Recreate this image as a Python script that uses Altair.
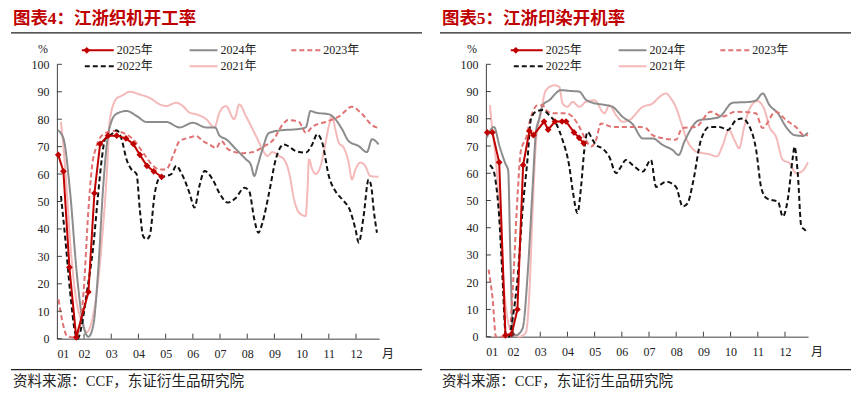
import altair as alt
import pandas as pd

# ---------------- data ----------------
MONTH_TICKS = list(range(12))
MONTH_LABELS = ["01", "02", "03", "04", "05", "06", "07", "08", "09", "10", "11", "12"]
Y_TICKS = list(range(0, 101, 10))
SERIES = ["2025年", "2024年", "2023年", "2022年", "2021年"]
TITLES = ["图表4：江浙织机开工率", "图表5：江浙印染开机率"]
SOURCE = "资料来源：CCF，东证衍生品研究院"

# Chart 1: 江浙织机开工率 (x = months since Jan 1)
L25_X = [0.05, 0.24, 0.46, 0.71, 1.16, 1.38, 1.59, 1.88, 2.2, 2.54, 2.81, 3.05, 3.31, 3.56, 3.85]
L25_Y = [67, 61, 26, 0.5, 17, 53, 71, 74, 74, 73, 71, 67, 63, 61, 59]

L24_X = [0.03, 0.24, 0.49, 0.73, 0.98, 1.16, 1.34, 1.52, 1.7, 1.85, 2.0, 2.2, 2.56, 2.93, 3.29, 4.02, 4.51,
         5.0, 5.49, 5.82, 5.98, 6.22, 6.59, 6.95, 7.13, 7.26, 7.38, 7.56, 7.8, 8.29, 8.78, 9.15, 9.33,
         9.51, 10.0, 10.24, 10.49, 10.73, 11.1, 11.4, 11.59, 11.83]
L24_Y = [76, 73, 53, 24, 4.6, 0.7, 5, 25, 55, 72, 79, 82, 83, 81.2, 79, 79, 77,
         78.7, 77, 77, 74, 72.7, 69, 65.4, 63.5, 59.3, 63, 69, 75, 76, 76.3, 77, 83,
         82.4, 81.8, 80, 76.3, 72, 70.2, 68, 72.7, 70.8]

L23_X = [0.06, 0.24, 0.37, 0.61, 0.79, 0.98, 1.16, 1.28, 1.46, 1.71, 2.07, 2.44, 2.8, 3.17, 3.54, 3.78,
         4.02, 4.27, 4.51, 4.88, 5.12, 5.37, 5.61, 5.85, 6.05, 6.3, 6.83, 7.2, 7.6, 7.96, 8.3, 8.5,
         8.9, 9.16, 9.4, 9.89, 10.38, 10.85, 11.2, 11.58, 11.84]
L23_Y = [14.3, 4.6, 1, 0.4, 2.2, 16.8, 47, 61.7, 70.2, 74.5, 75.7, 75, 72.7, 67.8, 63, 61.7,
         61.7, 66.6, 72, 73.3, 73.9, 72, 70.8, 69.5, 72, 69, 67.6, 68, 70, 72.5, 78, 79.7,
         79, 75, 77.3, 79, 81, 84.5, 82.1, 77.9, 76.7]

L22_X = [0.15, 0.3, 0.49, 0.67, 0.76, 0.91, 1.1, 1.34, 1.52, 1.65, 1.77, 2.01, 2.2, 2.38, 2.56, 2.74,
         2.93, 3.05, 3.17, 3.29, 3.41, 3.6, 3.78, 4.02, 4.21, 4.39, 4.57, 4.88, 5.06, 5.24, 5.43,
         5.73, 5.98, 6.28, 6.59, 6.89, 7.07, 7.26, 7.41, 7.56, 7.8, 8.05, 8.35, 8.54, 8.78, 9.15,
         9.39, 9.57, 9.76, 10.0, 10.24, 10.49, 10.79, 10.98, 11.1, 11.28, 11.46, 11.56, 11.65, 11.77]
L22_Y = [52, 37.4, 16.8, 2.2, 0, 4.6, 16.8, 33.8, 53, 65.4, 72.7, 74.5, 76, 72.7, 65.4, 61.7,
         60, 47, 37.4, 36.2, 37.4, 53, 58.7, 59.3, 60, 63, 60.5, 53, 47.8, 55.6, 61.1,
         58, 53, 49.6, 51.4, 55, 53.8, 43.5, 38.6, 42.3, 53, 65.4, 70.8, 70, 68.4, 67.8,
         70.8, 74.5, 71.4, 59.3, 53.8, 50.8, 46.5, 39.9, 35, 44.7, 58, 55.6, 47, 38.6]

L21_X = [0.15, 0.24, 0.37, 0.49, 0.67, 0.92, 1.1, 1.3, 1.47, 1.65, 1.83, 1.95, 2.2, 2.38, 2.68, 3.05,
         3.41, 3.78, 4.02, 4.39, 4.63, 4.88, 5.12, 5.49, 5.79, 5.98, 6.22, 6.52, 6.71, 6.95, 7.2,
         7.38, 7.56, 7.74, 7.93, 8.17, 8.35, 8.54, 8.72, 8.9, 9.15, 9.21, 9.27, 9.39, 9.51, 9.7,
         9.88, 10.0, 10.12, 10.24, 10.37, 10.55, 10.73, 10.85, 10.98, 11.16, 11.34, 11.52, 11.83]
L21_Y = [79, 70, 53, 35, 17, 6, 2.4, 7, 17, 35, 59, 80, 87.6, 88.5, 90, 89,
         87.8, 85.4, 84.8, 86, 84.8, 82.4, 81.8, 80, 77, 82.4, 84.8, 80, 85.4, 81.2, 76.3,
         72.7, 69, 66.6, 68, 66.6, 65.4, 60.5, 50.8, 46, 44.7, 53, 65.4, 61.7, 60, 63,
         71.4, 77.5, 81.2, 76.3, 71.4, 69.6, 64.2, 58, 61.7, 64.2, 63, 59.3, 59]

# Chart 2: 江浙印染开机率
R25_X = [0.05, 0.24, 0.49, 0.72, 0.95, 1.16, 1.37, 1.6, 1.75, 2.14, 2.29, 2.54, 2.8, 2.95, 3.24, 3.43, 3.6]
R25_Y = [75, 75, 64, 0.5, 1, 10, 63, 75.5, 74, 79, 76, 79, 79, 79, 75, 73, 71]

R24_X = [0.03, 0.3, 0.5, 0.72, 0.82, 0.9, 1.0, 1.1, 1.35, 1.55, 1.72, 1.84, 1.96, 2.09, 2.33, 2.76,
         3.13, 3.43, 3.68, 3.93, 4.42, 4.66, 5.03, 5.4, 5.77, 6.13, 6.5, 6.87, 7.09, 7.3, 7.85,
         8.34, 8.59, 9.08, 9.69, 9.94, 10.18, 10.43, 10.74, 11.04, 11.35, 11.66, 11.84]
R24_Y = [73, 77, 70, 63.5, 61, 30, 1, 0.5, 3, 25, 55, 75, 80, 85, 86.8, 90.5,
         90.2, 90, 87, 85.9, 85, 84.4, 80.7, 78, 72.8, 72.8, 70.4, 68.5, 66.7, 71.6, 79.5,
         80.1, 80.7, 85.9, 86.2, 86.8, 89.3, 85, 82, 77, 74, 73.7, 74.9]

R23_X = [0.1, 0.25, 0.37, 0.86, 0.98, 1.17, 1.29, 1.47, 1.66, 1.9, 2.09, 2.21, 2.45, 2.94, 3.19, 3.44,
         3.68, 3.87, 4.05, 4.23, 4.66, 5.03, 5.27, 5.64, 5.88, 6.13, 6.48, 6.99, 7.22, 7.72, 8.27,
         8.69, 9.19, 9.93, 10.17, 10.66, 11.03, 11.4, 11.7, 11.84]
R23_Y = [24.6, 13.7, 0, 0, 16, 52.7, 68.5, 72.8, 80.7, 85, 85, 83.2, 82, 82, 80.7, 77,
         72.2, 69.8, 72.2, 78.3, 77, 77, 77, 77, 76.6, 74, 72.9, 72.3, 76.6, 77, 82.6,
         80.8, 82.6, 82, 76.6, 82.6, 79.6, 77, 74, 74]

R22_X = [0.15, 0.31, 0.37, 0.49, 0.61, 0.74, 0.86, 0.98, 1.17, 1.35, 1.53, 1.66, 1.84, 2.09, 2.33, 2.58,
         2.82, 3.07, 3.19, 3.37, 3.5, 3.62, 3.74, 3.93, 4.05, 4.29, 4.54, 4.79, 4.97, 5.15, 5.4,
         5.77, 6.07, 6.26, 6.63, 6.99, 7.24, 7.42, 7.61, 7.91, 8.22, 8.59, 8.9, 9.2, 9.45, 9.63,
         9.94, 10.12, 10.31, 10.49, 10.74, 10.92, 11.1, 11.29, 11.35, 11.47, 11.6, 11.72, 11.84]
R22_Y = [63, 60, 56.3, 44, 22, 0, 0, 6.3, 22, 46.6, 65, 80, 82.6, 83.2, 81.3, 78.3,
         72.2, 62.4, 53.9, 45.4, 55, 68.5, 75.2, 72.2, 70.4, 69.1, 66, 60, 62.4, 64.9, 63,
         60.6, 64.9, 55, 56.9, 55, 47.8, 49, 56.3, 72.2, 77, 77, 75.9, 79.5, 80.1, 78.3,
         68.5, 55, 50.9, 50.2, 49.6, 44.1, 50.2, 66, 69.8, 60, 40.5, 39.3, 38]

R21_X = [0.15, 0.25, 0.37, 0.49, 0.61, 0.8, 0.98, 1.23, 1.47, 1.6, 1.72, 1.84, 2.02, 2.21, 2.52, 2.7,
         2.82, 3.0, 3.19, 3.44, 3.68, 3.99, 4.36, 4.54, 4.79, 5.03, 5.27, 5.77, 6.13, 6.38, 6.62,
         6.81, 7.0, 7.2, 7.36, 7.6, 7.72, 8.21, 8.5, 8.7, 8.94, 9.15, 9.31, 9.5, 9.68, 9.98,
         10.25, 10.43, 10.67, 10.92, 11.17, 11.41, 11.66, 11.84]
R21_Y = [85, 74.6, 64.9, 46.6, 25.9, 6.3, 1.5, 0, 1.5, 16, 46.6, 71, 82, 90.5, 92.3, 91.7,
         85.6, 84.4, 86.2, 84.4, 86.2, 86.8, 82, 85, 81.3, 78.9, 79.5, 84.4, 85.6, 88, 89.3,
         87.4, 84, 78, 73, 69, 68, 67, 66.2, 70, 75.9, 72, 69.2, 77, 83.3, 86.5,
         83.2, 77, 73.4, 64.9, 63.7, 60, 61, 64]

# ---------------- style ----------------
COLORS = ["#c00000", "#8c8c8c", "#e07272", "#111111", "#f4b9b9"]
DASHES = [[1, 0], [1, 0], [5, 3], [5, 3], [1, 0]]
DRAW_ORDER = [4, 1, 2, 3, 0]
FONT = "Liberation Serif, Noto Sans CJK SC"
AXIS_COLOR = "#404040"
# legend layout (pixel offsets from the plot origin): line start, line end, y
LEG_LAYOUT = [(25, 57, -14), (133, 161, -14), (235, 264, -14), (28, 57, 2), (133, 161, 2)]


def panel(title, xs, ys, W, H):
    x_enc = alt.X("m:Q", scale=alt.Scale(domain=[0, 11.85], nice=False, zero=False),
                  axis=alt.Axis(values=MONTH_TICKS, ticks=False, grid=False, domainColor=AXIS_COLOR,
                                labelExpr="(datum.value < 9 ? '0' : '') + (datum.value + 1)",
                                labelPadding=10, labelFont=FONT, labelFontSize=12,
                                labelColor="#222222", title=None))
    y_enc = alt.Y("v:Q", scale=alt.Scale(domain=[0, 100], nice=False),
                  axis=alt.Axis(values=Y_TICKS, ticks=False, grid=False, domainColor=AXIS_COLOR,
                                labelPadding=8, labelFont=FONT, labelFontSize=12,
                                labelColor="#222222", title=None))
    layers = []
    for i in DRAW_ORDER:
        df = pd.DataFrame({"m": xs[i], "v": ys[i]})
        if i == 0:
            mk = alt.Chart(df).mark_line(color=COLORS[i], strokeWidth=2,
                                         point=alt.OverlayMarkDef(shape="diamond", filled=True,
                                                                  size=45, color=COLORS[i]))
        else:
            mk = alt.Chart(df).mark_line(color=COLORS[i], strokeWidth=2, strokeDash=DASHES[i],
                                         interpolate="monotone")
        layers.append(mk.encode(x=x_enc, y=y_enc))
    # inward tick marks
    layers.append(alt.Chart(pd.DataFrame({"v": Y_TICKS})).mark_rule(color=AXIS_COLOR)
                  .encode(y=y_enc, x=alt.value(0), x2=alt.value(5)))
    layers.append(alt.Chart(pd.DataFrame({"m": MONTH_TICKS[1:]})).mark_rule(color=AXIS_COLOR)
                  .encode(x=x_enc, y=alt.value(H - 5), y2=alt.value(H)))
    # units
    layers.append(alt.Chart(pd.DataFrame({"t": ["%"]})).mark_text(
        font=FONT, fontSize=12, color="#222222", align="center", baseline="middle")
        .encode(text="t:N", x=alt.value(-14), y=alt.value(-15)))
    layers.append(alt.Chart(pd.DataFrame({"t": ["月"]})).mark_text(
        font=FONT, fontSize=12, color="#222222", align="left", baseline="middle")
        .encode(text="t:N", x=alt.value(W + 3), y=alt.value(H + 15)))
    # legend
    for i, s in enumerate(SERIES):
        x1, x2, yy = LEG_LAYOUT[i]
        layers.append(alt.Chart(pd.DataFrame({"t": [s]})).mark_rule(
            color=COLORS[i], strokeWidth=2, strokeDash=DASHES[i])
            .encode(x=alt.value(x1), x2=alt.value(x2), y=alt.value(yy)))
        if i == 0:
            layers.append(alt.Chart(pd.DataFrame({"t": [s]})).mark_point(
                shape="diamond", filled=True, size=45, color=COLORS[i], opacity=1)
                .encode(x=alt.value(x1 + 5), y=alt.value(yy)))
        layers.append(alt.Chart(pd.DataFrame({"t": [s]})).mark_text(
            font=FONT, fontSize=12, color="#222222", align="left", baseline="middle")
            .encode(text="t:N", x=alt.value(x2 + 3), y=alt.value(yy)))
    # title, rules, source
    layers.append(alt.Chart(pd.DataFrame({"t": [title]})).mark_text(
        font=FONT, fontSize=17.5, fontWeight="bold", color="#c00000", align="left", baseline="middle")
        .encode(text="t:N", x=alt.value(-44), y=alt.value(-45)))
    layers.append(alt.Chart(pd.DataFrame({"t": [title]})).mark_rule(color="#222222", strokeWidth=1.2)
                  .encode(x=alt.value(-46), x2=alt.value(366), y=alt.value(-31.5)))
    layers.append(alt.Chart(pd.DataFrame({"t": [SOURCE]})).mark_rule(color="#222222", strokeWidth=1.2)
                  .encode(x=alt.value(-46), x2=alt.value(366), y=alt.value(306)))
    layers.append(alt.Chart(pd.DataFrame({"t": [SOURCE]})).mark_text(
        font=FONT, fontSize=14.6, color="#222222", align="left", baseline="middle")
        .encode(text="t:N", x=alt.value(-44), y=alt.value(318)))
    # invisible anchor fixing the top-left extent
    layers.append(alt.Chart(pd.DataFrame({"t": [0]})).mark_rule(strokeOpacity=0)
                  .encode(x=alt.value(-48.7), x2=alt.value(-47), y=alt.value(-56), y2=alt.value(-55)))
    return alt.layer(*layers).properties(width=W, height=H)


left = panel(TITLES[0], [L25_X, L24_X, L23_X, L22_X, L21_X], [L25_Y, L24_Y, L23_Y, L22_Y, L21_Y], 323, 275)
right = panel(TITLES[1], [R25_X, R24_X, R23_X, R22_X, R21_X], [R25_Y, R24_Y, R23_Y, R22_Y, R21_Y], 323, 273)

chart = alt.hconcat(left, right, spacing=107, bounds="flush").properties(
    padding=0, background="white"
).configure_view(stroke=None)

chart.save("out.html", embed_options={"renderer": "svg", "actions": False})
